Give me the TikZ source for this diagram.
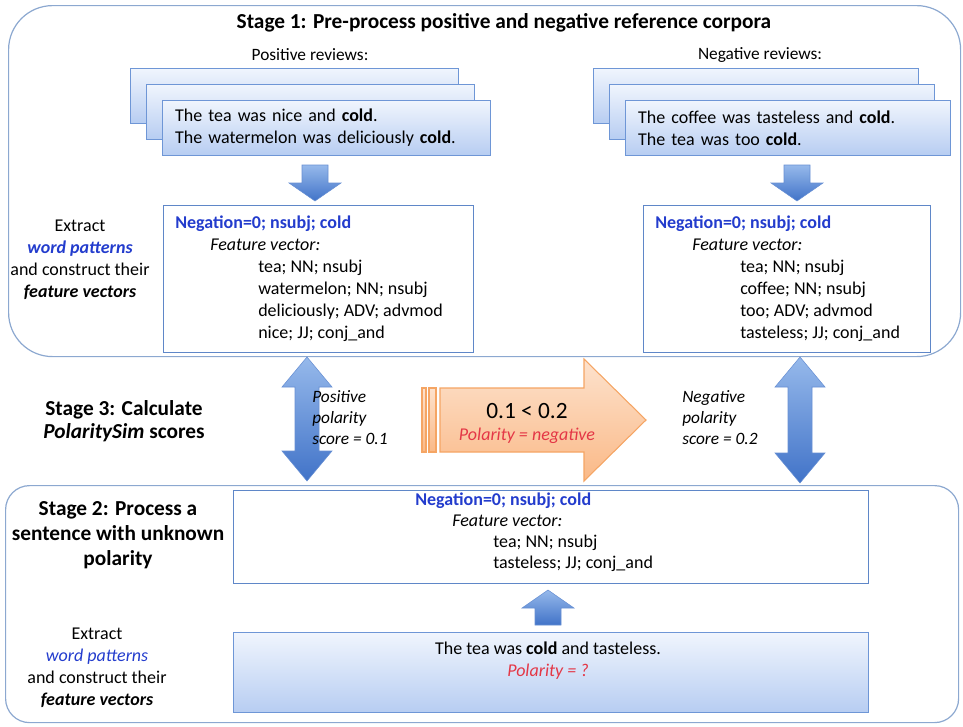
\documentclass[tikz,border=0pt]{standalone}
\usepackage{fontspec}
\setmainfont{Carlito}
\usetikzlibrary{calc}
\definecolor{stageline}{RGB}{140,168,208}
\definecolor{revtop}{RGB}{240,245,253}
\definecolor{revbot}{RGB}{183,205,242}
\definecolor{revline}{RGB}{110,150,214}
\definecolor{fvline}{RGB}{95,135,200}
\definecolor{negblue}{RGB}{35,60,205}
\definecolor{polred}{RGB}{228,55,70}
\definecolor{arrtop}{RGB}{150,185,235}
\definecolor{arrbot}{RGB}{65,115,200}
\definecolor{orgtop}{RGB}{253,226,205}
\definecolor{orgbot}{RGB}{250,185,135}
\definecolor{orgline}{RGB}{245,165,100}
\tikzset{
  stagebox/.style={draw=stageline, line width=0.9pt, anchor=north west, inner sep=0pt},
  revbox/.style={draw=revline, line width=0.8pt, top color=revtop, bottom color=revbot, anchor=north west, inner sep=0pt, minimum width=246pt, minimum height=41pt},
  fvbox/.style={draw=fvline, line width=0.8pt, fill=white, anchor=north west, inner sep=0pt},
  txt/.style={font=\fontsize{13.5}{16.5}\selectfont, inner sep=0pt},
  blockarr/.style={top color=arrtop, bottom color=arrbot, draw=arrbot!80, line width=0.4pt},
  orgshape/.style={top color=orgtop, bottom color=orgbot, draw=orgline, line width=0.8pt},
}
% #1 top centre, #2 tip (below)
\newcommand\downarr[2]{\path[blockarr] let \p1=(#1), \p2=(#2) in
  (\x2-9.75pt,\y1) -- (\x2+9.75pt,\y1) -- (\x2+9.75pt,\y2+13.5pt) -- (\x2+19.5pt,\y2+13.5pt) -- (\x2,\y2) -- (\x2-19.5pt,\y2+13.5pt) -- (\x2-9.75pt,\y2+13.5pt) -- cycle;}
% #1 bottom centre, #2 tip (above)
\newcommand\uparr[2]{\path[blockarr] let \p1=(#1), \p2=(#2) in
  (\x2-9.75pt,\y1) -- (\x2+9.75pt,\y1) -- (\x2+9.75pt,\y2-13.5pt) -- (\x2+19.5pt,\y2-13.5pt) -- (\x2,\y2) -- (\x2-19.5pt,\y2-13.5pt) -- (\x2-9.75pt,\y2-13.5pt) -- cycle;}
% #1 top tip, #2 bottom tip
\newcommand\dblarr[2]{\path[blockarr] let \p1=(#1), \p2=(#2) in
  (\x1,\y1) -- (\x1+18.75pt,\y1-22.5pt) -- (\x1+9pt,\y1-22.5pt) -- (\x1+9pt,\y2+22.5pt) -- (\x1+18.75pt,\y2+22.5pt) -- (\x1,\y2) -- (\x1-18.75pt,\y2+22.5pt) -- (\x1-9pt,\y2+22.5pt) -- (\x1-9pt,\y1-22.5pt) -- (\x1-18.75pt,\y1-22.5pt) -- cycle;}
\begin{document}
\begin{tikzpicture}[x=0.75pt,y=-0.75pt]
\useasboundingbox (0,0) rectangle (963,726);

% Stage boxes
\node[stagebox, rounded corners=33pt, minimum width=714pt, minimum height=263.25pt] (stage1) at (8,5) {};
\node[stagebox, rounded corners=18pt, minimum width=714.75pt, minimum height=177.75pt] (stage2) at (5,485) {};

\node[txt, font=\fontsize{16}{19}\selectfont\bfseries] (title1) at (504,23) {Stage 1: Pre-process positive and negative reference corpora};
\node[txt, font=\fontsize{13}{16}\selectfont] (poslab) at (310,55) {Positive reviews:};
\node[txt, font=\fontsize{13}{16}\selectfont] (neglab) at (760,55) {Negative reviews:};

% Positive reviews stack
\node[revbox] (posback) at (130,68) {};
\node[revbox] (posmid) at (146,84) {};
\node[revbox, txt, text width=227pt, inner xsep=9.5pt, align=left] (posfront) at (162,100)
  {The tea was nice and \textbf{cold}.\\The watermelon was deliciously \textbf{cold}.};

% Negative reviews stack
\node[revbox, minimum width=244pt] (negback) at (593,68) {};
\node[revbox, minimum width=244pt] (negmid) at (609,84) {};
\node[revbox, minimum width=244pt, txt, text width=225pt, inner xsep=9.5pt, align=left] (negfront) at (625,100)
  {The coffee was tasteless and \textbf{cold}.\\The tea was too \textbf{cold}.};

% Feature boxes stage 1
\node[fvbox, minimum width=232.5pt, minimum height=110.25pt] (posfv) at (163,205) {};
\node[txt, anchor=north west, align=left] (posfvtext) at (175,216)
  {{\color{negblue}\bfseries Negation=0; nsubj; cold}\\
   \hspace*{26.25pt}\textit{Feature vector:}\\
   \hspace*{62.25pt}tea; NN; nsubj\\
   \hspace*{62.25pt}watermelon; NN; nsubj\\
   \hspace*{62.25pt}deliciously; ADV; advmod\\
   \hspace*{62.25pt}nice; JJ; conj\_and};
\node[fvbox, minimum width=215.25pt, minimum height=110.25pt] (negfv) at (643,205) {};
\node[txt, anchor=north west, align=left] (negfvtext) at (655,216)
  {{\color{negblue}\bfseries Negation=0; nsubj; cold}\\
   \hspace*{27.75pt}\textit{Feature vector:}\\
   \hspace*{63.75pt}tea; NN; nsubj\\
   \hspace*{63.75pt}coffee; NN; nsubj\\
   \hspace*{63.75pt}too; ADV; advmod\\
   \hspace*{63.75pt}tasteless; JJ; conj\_and};

% Left label stage 1
\node[txt, align=center] (extract1) at (80,260)
  {Extract\\{\color{negblue}\bfseries\itshape word patterns}\\and construct their\\{\bfseries\itshape feature vectors}};

% down arrows
\coordinate (pa1) at (315,165);
\coordinate (pa2) at (315,201);
\downarr{pa1}{pa2}
\coordinate (na1) at (797,165);
\coordinate (na2) at (797,201);
\downarr{na1}{na2}

% Stage 3
\node[txt, align=center, font=\fontsize{16}{17.5}\selectfont\bfseries] (stage3) at (124,421)
  {Stage 3: Calculate\\\textit{PolaritySim} scores};
\coordinate (dl1) at (307,357);
\coordinate (dl2) at (307,481);
\dblarr{dl1}{dl2}
\coordinate (dr1) at (800,357);
\coordinate (dr2) at (800,483);
\dblarr{dr1}{dr2}
\node[txt, anchor=west, align=left, font=\fontsize{13}{15.75}\selectfont\itshape] (posscore) at (312,418)
  {Positive\\polarity\\score = 0.1};
\node[txt, anchor=west, align=left, font=\fontsize{13}{15.75}\selectfont\itshape] (negscore) at (682,418)
  {Negative\\polarity\\score = 0.2};

% orange arrow
\path[orgshape] (422,388) rectangle (426,452);
\path[orgshape] (429,388) rectangle (436,452);
\path[orgshape] (440,388) -- (584,388) -- (584,359) -- (646,420) -- (584,481) -- (584,452) -- (440,452) -- cycle;
\node[txt, font=\fontsize{17.5}{20}\selectfont] (cmp) at (527,411) {0.1 < 0.2};
\node[txt, font=\fontsize{13.5}{16}\selectfont\itshape, text=polred] (polneg) at (527,436) {Polarity = negative};

% Stage 2
\node[txt, align=center, font=\fontsize{16}{18.75}\selectfont\bfseries] (stage2lab) at (118,535)
  {Stage 2: Process a\\sentence with unknown\\polarity};
\node[fvbox, minimum width=476.25pt, minimum height=69.75pt] (s2fv) at (233,490) {};
\node[txt, anchor=north west, align=left, font=\fontsize{13.5}{15.75}\selectfont] (s2fvtext) at (415,493)
  {{\color{negblue}\bfseries Negation=0; nsubj; cold}\\
   \hspace*{27.75pt}\textit{Feature vector:}\\
   \hspace*{58.5pt}tea; NN; nsubj\\
   \hspace*{58.5pt}tasteless; JJ; conj\_and};
\node[revbox, minimum width=476.25pt, minimum height=60pt] (s2sent) at (233,632) {};
\node[txt, align=center] (s2senttext) at (548,661)
  {The tea was \textbf{cold} and tasteless.\\{\color{polred}\itshape Polarity = ?}};
\coordinate (ua1) at (548,625);
\coordinate (ua2) at (548,590);
\uparr{ua1}{ua2}
\node[txt, align=center] (extract2) at (97,668)
  {Extract\\{\color{negblue}\itshape word patterns}\\and construct their\\{\bfseries\itshape feature vectors}};
\end{tikzpicture}
\end{document}
